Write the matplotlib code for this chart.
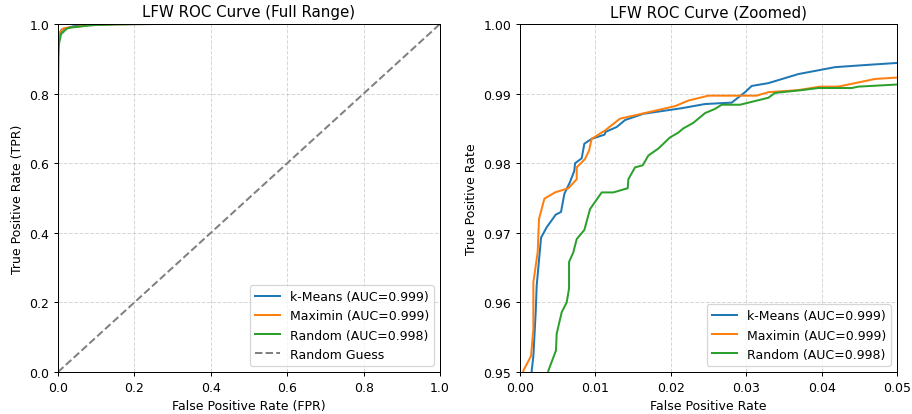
import matplotlib
matplotlib.use("Agg")
import matplotlib.pyplot as plt

# k-Means ROC points
km_fpr = [0.0, 0.0, 0.0005, 0.0010, 0.00155, 0.00177, 0.00208, 0.00221, 0.00279, 0.00354, 0.00473, 0.00544,
          0.00588, 0.00663, 0.0072, 0.0073, 0.00818, 0.00853, 0.0095, 0.0112, 0.01136, 0.01282,
          0.01393, 0.01636, 0.02144, 0.02454, 0.02807, 0.02984, 0.03073, 0.03293, 0.0369,
          0.04178, 0.04576, 0.04996, 0.06, 0.08, 0.10, 0.15, 0.25, 1.0]
km_tpr = [0.0, 0.80, 0.915, 0.940, 0.9502, 0.9523, 0.9586, 0.9624, 0.9693, 0.9708, 0.9726, 0.9730,
          0.9756, 0.9773, 0.9789, 0.9800, 0.9807, 0.9828, 0.9835, 0.9841, 0.9845, 0.9852,
          0.9862, 0.9871, 0.9879, 0.9885, 0.9887, 0.9902, 0.9911, 0.9915, 0.9928,
          0.9938, 0.9941, 0.9944, 0.9955, 0.9970, 0.9982, 0.9993, 1.0, 1.0]

# Maximin ROC points
mm_fpr = [0.0, 0.0, 0.0002, 0.00044, 0.00146, 0.00177, 0.00177, 0.00234, 0.00252, 0.00323, 0.00464,
          0.00641, 0.00752, 0.00752, 0.00862, 0.00915, 0.0095, 0.01127, 0.01326, 0.01614,
          0.02056, 0.02233, 0.02498, 0.03139, 0.03293, 0.0369, 0.03979, 0.04222, 0.04399,
          0.04708, 0.04996, 0.06, 0.08, 0.10, 0.15, 0.25, 1.0]
mm_tpr = [0.0, 0.82, 0.925, 0.9502, 0.9523, 0.9562, 0.9629, 0.9672, 0.9720, 0.9749, 0.9758,
          0.9764, 0.9777, 0.9794, 0.9806, 0.9818, 0.9835, 0.9847, 0.9864, 0.9871,
          0.9882, 0.9890, 0.9897, 0.9897, 0.9902, 0.9905, 0.9910, 0.9910, 0.9914,
          0.9921, 0.9923, 0.9940, 0.9962, 0.9978, 0.9992, 1.0, 1.0]

# Random ROC points
rd_fpr = [0.0, 0.0, 0.0008, 0.0020, 0.00376, 0.00477, 0.00486, 0.00553, 0.00619, 0.0065, 0.0065,
          0.00707, 0.00752, 0.00853, 0.00928, 0.01083, 0.01237, 0.01428, 0.01437, 0.01525,
          0.01627, 0.01702, 0.01834, 0.01989, 0.021, 0.02166, 0.02299, 0.02454, 0.02586,
          0.02675, 0.02918, 0.03293, 0.03382, 0.03736, 0.03957, 0.04399, 0.04487, 0.04996,
          0.06, 0.08, 0.10, 0.15, 0.20, 0.30, 1.0]
rd_tpr = [0.0, 0.78, 0.90, 0.935, 0.9502, 0.9531, 0.9555, 0.9586, 0.9600, 0.9620, 0.9658,
          0.9672, 0.9691, 0.9704, 0.9734, 0.9758, 0.9758, 0.9764, 0.9777, 0.9794,
          0.9797, 0.9811, 0.9821, 0.9837, 0.9844, 0.9850, 0.9858, 0.9872, 0.9878,
          0.9884, 0.9884, 0.9894, 0.9901, 0.9905, 0.9908, 0.9908, 0.9910, 0.9913,
          0.9930, 0.9955, 0.9972, 0.9988, 0.9996, 1.0, 1.0]

series = [
    ("k-Means (AUC=0.999)", km_fpr, km_tpr, "#1f77b4"),
    ("Maximin (AUC=0.999)", mm_fpr, mm_tpr, "#ff7f0e"),
    ("Random (AUC=0.998)", rd_fpr, rd_tpr, "#2ca02c"),
]

DPI = 90
fig = plt.figure(figsize=(912 / DPI, 415 / DPI), dpi=DPI)
ax1 = fig.add_axes([0.0636, 0.1012, 0.4189, 0.8386])
ax2 = fig.add_axes([0.5702, 0.1012, 0.4134, 0.8386])

for label, f, t, c in series:
    ax1.plot(f, t, color=c, lw=1.6, label=label)
ax1.plot([0, 1], [0, 1], color="gray", ls="--", lw=1.6, label="Random Guess")
ax1.set_xlim(0, 1)
ax1.set_ylim(0, 1)
ax1.set_xlabel("False Positive Rate (FPR)")
ax1.set_ylabel("True Positive Rate (TPR)")
ax1.set_title("LFW ROC Curve (Full Range)")
ax1.grid(True, ls="--", alpha=0.5)
ax1.legend(loc="lower right")

for label, f, t, c in series:
    ax2.plot(f, t, color=c, lw=1.6, label=label)
ax2.set_xlim(0, 0.05)
ax2.set_ylim(0.95, 1.0)
ax2.set_xticks([0.0, 0.01, 0.02, 0.03, 0.04, 0.05])
ax2.set_xticklabels(["0.00", "0.01", "0.02", "0.03", "0.04", "0.05"])
ax2.set_yticks([0.95, 0.96, 0.97, 0.98, 0.99, 1.0])
ax2.set_yticklabels(["0.95", "0.96", "0.97", "0.98", "0.99", "1.00"])
ax2.set_xlabel("False Positive Rate")
ax2.set_ylabel("True Positive Rate")
ax2.set_title("LFW ROC Curve (Zoomed)")
ax2.grid(True, ls="--", alpha=0.5)
ax2.legend(loc="lower right")

fig.savefig("out.png", dpi=DPI)
